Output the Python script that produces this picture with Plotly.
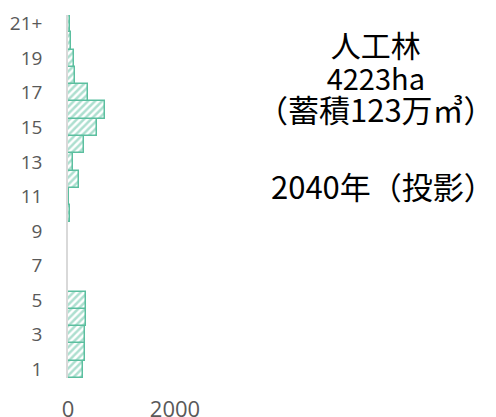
import plotly.graph_objects as go

categories = [str(i) for i in range(1, 21)] + ["21+"]
values = [275, 310, 315, 345, 335, 5, 5, 5, 5, 30, 10, 210, 85, 290, 535, 690, 380, 125, 110, 50, 30]
tick_labels = ["1", "3", "5", "7", "9", "11", "13", "15", "17", "19", "21+"]

teal = "#5bbf9f"
OFF = 8  # page body margin
W, H = 496 - OFF, 417 - OFF
L, T = 68 - OFF, 15 - OFF
R = W - (175 - OFF)
B = H - (378 - OFF)

fig = go.Figure()
fig.add_trace(go.Bar(
    y=categories, x=values, orientation="h",
    marker=dict(
        color="white",
        line=dict(color=teal, width=1.5),
        pattern=dict(shape="/", fgcolor=teal, bgcolor="white", size=5, solidity=0.5),
    ),
    width=1.0,
))

fig.update_layout(
    width=W, height=H,
    margin=dict(l=L, r=R, t=T, b=B),
    paper_bgcolor="white", plot_bgcolor="white",
    showlegend=False, bargap=0,
    font=dict(family="Open Sans, Noto Sans, sans-serif", color="#595959", size=19),
    xaxis=dict(range=[0, 2000], tickvals=[0, 2000], ticktext=["0", "2000"],
               showgrid=True, gridcolor="#d9d9d9", gridwidth=1.5, zeroline=False,
               showline=False, ticklabelstandoff=16, tickfont=dict(size=22), automargin=False),
    yaxis=dict(type="category", categoryorder="array", categoryarray=categories,
               tickvals=tick_labels, ticktext=tick_labels, showgrid=False,
               showline=True, linecolor="#d9d9d9", linewidth=1.5,
               ticklabelstandoff=20, tickfont=dict(size=19), range=[-0.5, 20.5], automargin=False),
)

block = ("<span style='font-size:30px'>人工林</span><br>"
         "<span style='font-size:29px'>4223ha</span><br>"
         "<span style='font-size:31px'>（蓄積123万㎥）</span>")
notes = [(376, 77, block, 25), (383, 185, "2040年（投影）", 31)]
pw, ph = W - L - R, H - T - B
for (xx, yy, t, fs) in notes:
    fig.add_annotation(x=(xx - OFF - L) / pw, y=1 - (yy - OFF - T) / ph, xref="paper", yref="paper", text=t,
                       showarrow=False, xanchor="center", yanchor="middle",
                       font=dict(family="Noto Sans CJK JP, sans-serif", color="black", size=fs))

fig.write_html("out.html")
